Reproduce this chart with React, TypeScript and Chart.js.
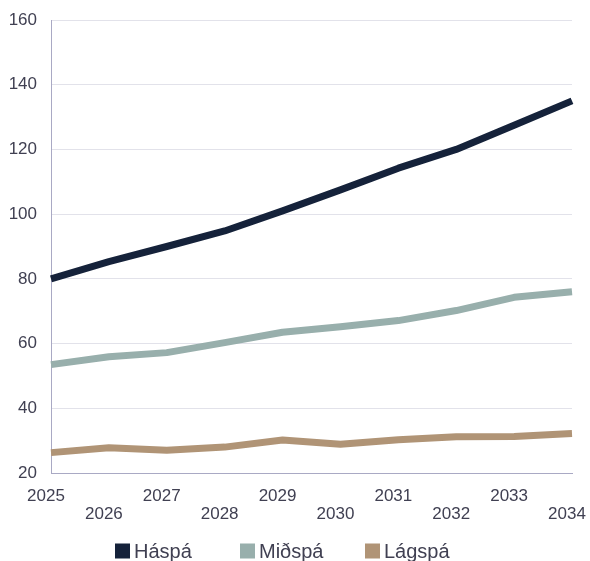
import React, { useEffect, useRef } from "react";
import { Chart, registerables } from "chart.js";

Chart.register(...registerables);

// Population forecast scenarios, 2025–2034
const years = ["2025", "2026", "2027", "2028", "2029", "2030", "2031", "2032", "2033", "2034"];
const haspa = [80, 85.3, 90, 94.8, 101, 107.5, 114.2, 120, 127.5, 135];
const midspa = [53.5, 55.9, 57.2, 60.3, 63.5, 65.2, 67.1, 70.2, 74.3, 76];
const lagspa = [26.3, 27.8, 27, 28, 30.2, 28.9, 30.3, 31.2, 31.3, 32.2];

const seriesNames = ["Háspá", "Miðspá", "Lágspá"];
const seriesColors = ["#15223a", "#98afac", "#b09476"];

const yMin = 20;
const yMax = 160;
const yStep = 20;

const FONT = "'Liberation Sans', Arial, Helvetica, sans-serif";
const TEXT = "#404052";

// Legend drawn below the axis: square swatch + label, fixed column spacing
const bottomLegend = {
  id: "bottomLegend",
  afterDraw(chart: any) {
    const { ctx, chartArea } = chart;
    const y = 551;
    ctx.save();
    ctx.font = `20px ${FONT}`;
    ctx.textBaseline = "middle";
    ctx.textAlign = "left";
    chart.data.datasets.forEach((ds: any, i: number) => {
      const x = chartArea.left + 64 + i * 125;
      ctx.fillStyle = ds.borderColor;
      ctx.fillRect(x, y - 7.5, 15, 15);
      ctx.fillStyle = TEXT;
      ctx.fillText(ds.label, x + 19, y + 1);
    });
    ctx.restore();
  },
};

export default function App() {
  const canvasRef = useRef<HTMLCanvasElement | null>(null);

  useEffect(() => {
    if (!canvasRef.current) return;
    const data = [haspa, midspa, lagspa];
    const chart = new Chart(canvasRef.current, {
      type: "line",
      data: {
        labels: years,
        datasets: data.map((values, i) => ({
          label: seriesNames[i],
          data: values,
          borderColor: seriesColors[i],
          backgroundColor: seriesColors[i],
          borderWidth: 7,
          pointRadius: 0,
          pointHoverRadius: 0,
          tension: 0,
          borderJoinStyle: "round" as const,
          borderCapStyle: "butt" as const,
          fill: false,
        })),
      },
      options: {
        animation: false,
        responsive: true,
        maintainAspectRatio: false,
        layout: { padding: { top: 20, right: 18, bottom: 38, left: 0 } },
        plugins: {
          legend: { display: false },
          tooltip: { enabled: false },
        },
        scales: {
          x: {
            grid: { display: false, drawTicks: false },
            border: { display: true, color: "#a9a9c4", width: 1 },
            afterFit(scale: any) {
              scale.height = 50;
              scale.paddingLeft = 0;
              scale.paddingRight = 0;
            },
            ticks: {
              autoSkip: false,
              maxRotation: 0,
              minRotation: 0,
              padding: 14,
              labelOffset: -5,
              color: TEXT,
              font: { family: FONT, size: 17, lineHeight: 1.06 },
              callback: (_v: any, i: number) => (i % 2 === 0 ? [years[i]] : ["", years[i]]),
            },
          },
          y: {
            min: yMin,
            max: yMax,
            grid: { color: "#e2e2ea", lineWidth: 1, drawTicks: false },
            border: { display: true, color: "#a9a9c4", width: 1 },
            afterFit(scale: any) {
              scale.width = 51;
              scale.paddingTop = 0;
              scale.paddingBottom = 0;
            },
            ticks: {
              stepSize: yStep,
              padding: 14,
              color: TEXT,
              font: { family: FONT, size: 17 },
            },
          },
        },
      },
      plugins: [bottomLegend],
    });
    return () => chart.destroy();
  }, []);

  return (
    <div style={{ position: "fixed", left: 0, top: 0, width: 590, height: 561, background: "#fff" }}>
      <canvas ref={canvasRef} />
    </div>
  );
}
